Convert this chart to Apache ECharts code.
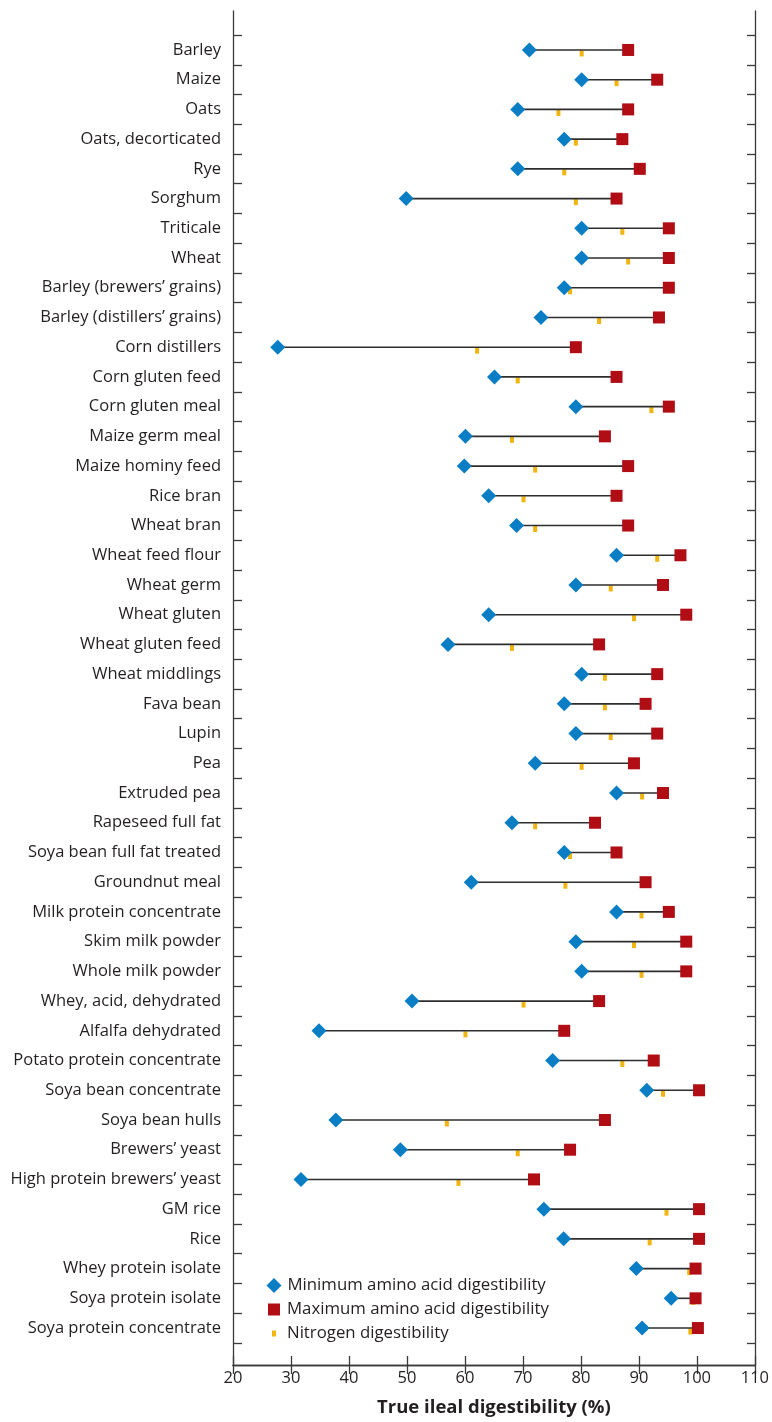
<!DOCTYPE html>
<html>
<head>
<meta charset="utf-8">
<script src="https://cdn.jsdelivr.net/npm/echarts@6/dist/echarts.min.js"></script>
<style>
  html, body { margin: 0; padding: 0; background: #ffffff; }
  #chart { width: 772px; height: 1422px; }
</style>
</head>
<body>
<div id="chart"></div>
<script>
// Feed ingredients, listed top to bottom
const feeds = [
  'Barley', 'Maize', 'Oats', 'Oats, decorticated', 'Rye', 'Sorghum', 'Triticale', 'Wheat',
  'Barley (brewers’ grains)', 'Barley (distillers’ grains)', 'Corn distillers',
  'Corn gluten feed', 'Corn gluten meal', 'Maize germ meal', 'Maize hominy feed', 'Rice bran',
  'Wheat bran', 'Wheat feed flour', 'Wheat germ', 'Wheat gluten', 'Wheat gluten feed',
  'Wheat middlings', 'Fava bean', 'Lupin', 'Pea', 'Extruded pea', 'Rapeseed full fat',
  'Soya bean full fat treated', 'Groundnut meal', 'Milk protein concentrate',
  'Skim milk powder', 'Whole milk powder', 'Whey, acid, dehydrated', 'Alfalfa dehydrated',
  'Potato protein concentrate', 'Soya bean concentrate', 'Soya bean hulls', 'Brewers’ yeast',
  'High protein brewers’ yeast', 'GM rice', 'Rice', 'Whey protein isolate',
  'Soya protein isolate', 'Soya protein concentrate'
];

// Minimum amino acid digestibility (%)
const minAA = [
  71, 80, 69, 77, 69, 49.8, 80, 80,
  77, 73, 27.7,
  65, 79, 60, 59.8, 64,
  68.8, 86, 79, 64, 57,
  80, 77, 79, 72, 86, 68,
  77, 61, 86,
  79, 80, 50.8, 34.8,
  75, 91.2, 37.7, 48.8,
  31.7, 73.5, 76.9, 89.4,
  95.4, 90.4
];

// Maximum amino acid digestibility (%)
const maxAA = [
  88, 93, 88, 87, 90, 86, 95, 95,
  95, 93.3, 79,
  86, 95, 84, 88, 86,
  88, 97, 94, 98, 83,
  93, 91, 93, 89, 94, 82.3,
  86, 91, 95,
  98, 98, 83, 77,
  92.4, 100.2, 84, 78,
  71.8, 100.2, 100.2, 99.6,
  99.6, 100
];

// Nitrogen digestibility (%)
const nitrogen = [
  80, 86, 76, 79, 77, 79, 87, 88,
  78, 83, 62,
  69, 92, 68, 72, 70,
  72, 93, 85, 89, 68,
  84, 84, 85, 80, 90.4, 72,
  78, 77.2, 90.3,
  89, 90.3, 70, 60,
  87, 94, 56.8, 69,
  58.8, 94.6, 91.7, 98.5,
  99.2, 98.7
];

// Tick values along the digestibility axis
const xTicks = [20, 30, 40, 50, 60, 70, 80, 90, 100, 110];

const FONT = '"Open Sans", "Noto Sans", sans-serif';
const INK = '#231f20';
const FRAME = '#3a3a3a';

const rangeRows = feeds.map((f, i) => [minAA[i], maxAA[i], i]);
const minRows = feeds.map((f, i) => [minAA[i], i]);
const maxRows = feeds.map((f, i) => [maxAA[i], i]);
const nRows = feeds.map((f, i) => [nitrogen[i], i]);

const xMin = xTicks[0];
const xMax = xTicks[xTicks.length - 1];
const xStep = xTicks[1] - xTicks[0];

const chart = echarts.init(document.getElementById('chart'), null, { renderer: 'canvas' });

const legendBase = {
  orient: 'vertical',
  padding: 0,
  selectedMode: false,
  itemGap: 0,
  textStyle: { fontFamily: FONT, fontSize: 16.8, color: INK }
};

chart.setOption({
  animation: false,
  backgroundColor: '#ffffff',
  grid: [
    // outer frame with the value scale
    { left: 233, right: 16, top: 11, bottom: 50 },
    // inner band that holds the feed rows
    { left: 233, right: 16, top: 35.1, bottom: 79.1 }
  ],
  xAxis: [
    {
      gridIndex: 0, type: 'value', position: 'bottom',
      min: xMin, max: xMax, interval: xStep,
      name: 'True ileal digestibility (%)',
      nameLocation: 'middle', nameGap: 33,
      nameTextStyle: { fontFamily: FONT, fontSize: 18.5, fontWeight: 'bold', color: INK },
      axisLine: { show: true, lineStyle: { color: FRAME, width: 1.3 } },
      axisTick: { show: true, inside: true, length: 9, lineStyle: { color: FRAME, width: 1.3 } },
      axisLabel: { fontFamily: FONT, fontSize: 16.5, color: INK, margin: 5,
                   showMinLabel: true, showMaxLabel: true },
      splitLine: { show: false }
    },
    {
      gridIndex: 0, type: 'value', position: 'top',
      min: xMin, max: xMax, interval: xStep,
      axisLine: { show: true, lineStyle: { color: FRAME, width: 1.3 } },
      axisTick: { show: true, inside: true, length: 9, lineStyle: { color: FRAME, width: 1.3 } },
      axisLabel: { show: false },
      splitLine: { show: false }
    },
    {
      gridIndex: 1, type: 'value', min: xMin, max: xMax, show: false,
      splitLine: { show: false }
    }
  ],
  yAxis: [
    {
      gridIndex: 0, type: 'value', position: 'left', min: 0, max: 1,
      axisLine: { show: true, lineStyle: { color: FRAME, width: 1.3 } },
      axisTick: { show: false }, axisLabel: { show: false }, splitLine: { show: false }
    },
    {
      gridIndex: 0, type: 'value', position: 'right', min: 0, max: 1,
      axisLine: { show: true, lineStyle: { color: FRAME, width: 1.3 } },
      axisTick: { show: false }, axisLabel: { show: false }, splitLine: { show: false }
    },
    {
      gridIndex: 1, type: 'category', position: 'left', data: feeds, inverse: true,
      boundaryGap: true,
      axisLine: { show: false },
      axisTick: { show: true, inside: true, length: 9, lineStyle: { color: FRAME, width: 1.3 } },
      axisLabel: { fontFamily: FONT, fontSize: 16.5, color: INK, margin: 12, interval: 0 },
      splitLine: { show: false }
    },
    {
      gridIndex: 1, type: 'category', position: 'right', data: feeds, inverse: true,
      boundaryGap: true,
      axisLine: { show: false },
      axisTick: { show: true, inside: true, length: 9, lineStyle: { color: FRAME, width: 1.3 } },
      axisLabel: { show: false },
      splitLine: { show: false }
    }
  ],
  legend: [
    Object.assign({}, legendBase, {
      left: 266.5, top: 1277,
      itemWidth: 15, itemHeight: 15,
      data: [{ name: 'Minimum amino acid digestibility', icon: 'diamond' }],
      textStyle: Object.assign({}, legendBase.textStyle, { padding: [0, 0, 0, 1] })
    }),
    Object.assign({}, legendBase, {
      left: 268, top: 1301,
      itemWidth: 12, itemHeight: 12,
      data: [{ name: 'Maximum amino acid digestibility', icon: 'rect' }],
      textStyle: Object.assign({}, legendBase.textStyle, { padding: [0, 0, 0, 2] })
    }),
    Object.assign({}, legendBase, {
      left: 272, top: 1325,
      itemWidth: 4, itemHeight: 6,
      data: [{ name: 'Nitrogen digestibility', icon: 'rect' }],
      textStyle: Object.assign({}, legendBase.textStyle, { padding: [0, 0, 0, 6] })
    })
  ],
  series: [
    {
      // connector from minimum to maximum for every feed
      name: 'range',
      type: 'custom',
      xAxisIndex: 2, yAxisIndex: 2,
      z: 2,
      encode: { x: [0, 1], y: 2 },
      data: rangeRows,
      renderItem: function (params, api) {
        const row = api.value(2);
        const a = api.coord([api.value(0), row]);
        const b = api.coord([api.value(1), row]);
        return {
          type: 'line',
          shape: { x1: a[0], y1: a[1], x2: b[0], y2: b[1] },
          style: { stroke: '#2e2e2e', lineWidth: 1.6 }
        };
      }
    },
    {
      name: 'Nitrogen digestibility',
      type: 'scatter',
      xAxisIndex: 2, yAxisIndex: 2,
      z: 1,
      symbol: 'rect', symbolSize: [4, 6], symbolOffset: [0, 3.5],
      itemStyle: { color: '#f2b50f', opacity: 1 },
      data: nRows
    },
    {
      name: 'Maximum amino acid digestibility',
      type: 'scatter',
      xAxisIndex: 2, yAxisIndex: 2,
      z: 4,
      symbol: 'rect', symbolSize: 12,
      itemStyle: { color: '#b00d14', opacity: 1 },
      data: maxRows
    },
    {
      name: 'Minimum amino acid digestibility',
      type: 'scatter',
      xAxisIndex: 2, yAxisIndex: 2,
      z: 5,
      symbol: 'diamond', symbolSize: 15,
      itemStyle: { color: '#0a7ec4', opacity: 1 },
      data: minRows
    }
  ]
});
</script>
</body>
</html>
